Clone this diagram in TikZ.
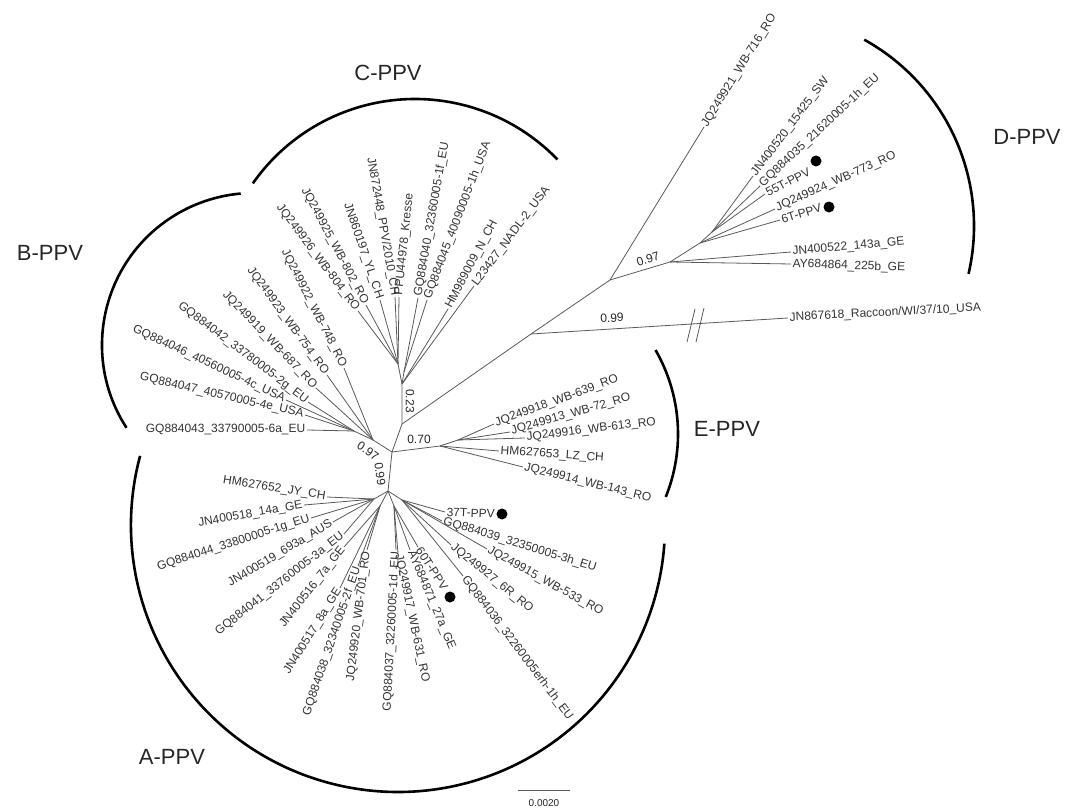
\documentclass[tikz,border=0pt]{standalone}
\usepackage{fontspec}
\setmainfont{Liberation Sans}
\usepackage{xcolor}
\usepackage{tikz}

\begin{document}
\begin{tikzpicture}[
    x=1pt, y=-1pt,
    br/.style={draw=black!65, line width=0.8pt},
    leaf/.style={font=\fontsize{12}{14}\selectfont, text=black!80, inner sep=1.5pt},
    boot/.style={font=\fontsize{12}{14}\selectfont, text=black!85, inner sep=1pt},
    clade/.style={font=\fontsize{22}{26}\selectfont, text=black!85},
    bracket/.style={draw=black, line width=2.6pt},
    tdot/.style={circle, fill=black, minimum size=11pt, inner sep=0pt}
]
    \useasboundingbox (0,0) rectangle (1071,810);

    \coordinate (j0) at (392,452);
    \coordinate (j1) at (402,424);
    \coordinate (cbase) at (402,384);
    \coordinate (cl) at (398,364);
    \coordinate (cr) at (404,372);
    \coordinate (bnode) at (373,440);
    \coordinate (bsub) at (354,431);
    \coordinate (anode) at (388,491);
    \coordinate (al) at (374,499);
    \coordinate (ad) at (380,506);
    \coordinate (ar) at (394,506);
    \coordinate (ae) at (402,500);
    \coordinate (enode) at (440,446);
    \coordinate (esub) at (458,440);
    \coordinate (dr) at (531,334);
    \coordinate (dj) at (610,280);
    \coordinate (dnode) at (670,262);
    \coordinate (d2) at (700,243);
    \coordinate (d3) at (712,232);

    \draw[bracket] (398,525) ++(195:267) arc[start angle=195, end angle=4, radius=267];
    \draw[bracket] (254,345) ++(147:152) arc[start angle=147, end angle=265, radius=152];
    \draw[bracket] (415,297) ++(215:198) arc[start angle=215, end angle=316, radius=198];
    \draw[bracket] (761,226) ++(-61:213) arc[start angle=-61, end angle=13, radius=213];
    \draw[bracket] (510,434) ++(-30:168) arc[start angle=-30, end angle=22, radius=168];

    \node[clade] (cladeA) at (172,757) {A-PPV};
    \node[clade] (cladeB) at (50,253) {B-PPV};
    \node[clade] (cladeC) at (388,73) {C-PPV};
    \node[clade] (cladeD) at (1027,137) {D-PPV};
    \node[clade] (cladeE) at (727,429) {E-PPV};

    \node[leaf, anchor=east] (gq043) at (307,430) {GQ884043\_33790005-6a\_EU};
    \node[leaf, anchor=east, rotate=-13] (gq047) at (305,415) {GQ884047\_40570005-4e\_USA};
    \node[leaf, anchor=east, rotate=-25] (gq046) at (286,400) {GQ884046\_40560005-4c\_USA};
    \node[leaf, anchor=east, rotate=-37] (gq042) at (308,402) {GQ884042\_33780005-2g\_EU};
    \node[leaf, anchor=east, rotate=-46] (jq919) at (316,388) {JQ249919\_WB-687\_RO};
    \node[leaf, anchor=east, rotate=-54] (jq923) at (327,375) {JQ249923\_WB-754\_RO};
    \node[leaf, anchor=east, rotate=-63] (jq922) at (344,368) {JQ249922\_WB-748\_RO};

    \node[leaf, anchor=east, rotate=-53] (jq926) at (358,311) {JQ249926\_WB-804\_RO};
    \node[leaf, anchor=east, rotate=-62] (jq925) at (366,305) {JQ249925\_WB-802\_RO};
    \node[leaf, anchor=east, rotate=-71] (jn197) at (380,300) {JN860197\_YL\_CH};
    \node[leaf, anchor=east, rotate=-80] (jn448) at (395,297) {JN872448\_PPV/2010\_CH};
    \node[leaf, anchor=west, rotate=84] (ppu) at (399,297) {PPU44978\_Kresse};
    \node[leaf, anchor=west, rotate=80] (gq040) at (418,298) {GQ884040\_32360005-1f\_EU};
    \node[leaf, anchor=west, rotate=69] (gq045) at (427,300) {GQ884045\_40090005-1h\_USA};
    \node[leaf, anchor=west, rotate=62] (hm009) at (448,309) {HM989009\_N\_CH};
    \node[leaf, anchor=west, rotate=53] (l23) at (474,286) {L23427\_NADL-2\_USA};

    \node[leaf, anchor=west, rotate=58] (jq921) at (704,127) {JQ249921\_WB-716\_RO};
    \node[leaf, anchor=west, rotate=53] (jn520) at (753,176) {JN400520\_15425\_SW};
    \node[leaf, anchor=west, rotate=43] (gq035) at (760,186) {GQ884035\_21620005-1h\_EU};
    \node[leaf, anchor=west, rotate=27] (t55) at (765,194) {55T-PPV};
    \node[leaf, anchor=west, rotate=24] (jq924) at (775,209) {JQ249924\_WB-773\_RO};
    \node[leaf, anchor=west, rotate=17] (t6) at (780,220) {6T-PPV};
    \node[leaf, anchor=west, rotate=5] (jn522) at (791,252) {JN400522\_143a\_GE};
    \node[leaf, anchor=west, rotate=-2] (ay864) at (791,264) {AY684864\_225b\_GE};
    \node[leaf, anchor=west, rotate=3] (rac) at (788,318) {JN867618\_Raccoon/WI/37/10\_USA};

    \node[leaf, anchor=west, rotate=20] (jq918) at (494,424) {JQ249918\_WB-639\_RO};
    \node[leaf, anchor=west, rotate=16] (jq913) at (510,432) {JQ249913\_WB-72\_RO};
    \node[leaf, anchor=west, rotate=7] (jq916) at (525,438) {JQ249916\_WB-613\_RO};
    \node[leaf, anchor=west, rotate=-4] (hm653) at (499,451) {HM627653\_LZ\_CH};
    \node[leaf, anchor=west, rotate=-14] (jq914) at (523,467) {JQ249914\_WB-143\_RO};

    \node[leaf, anchor=east, rotate=-9] (hm652) at (327,497) {HM627652\_JY\_CH};
    \node[leaf, anchor=east, rotate=10] (jn518) at (304,505) {JN400518\_14a\_GE};
    \node[leaf, anchor=east, rotate=18] (gq044) at (311,518) {GQ884044\_33800005-1g\_EU};
    \node[leaf, anchor=east, rotate=31] (jn519) at (333,522) {JN400519\_693a\_AUS};
    \node[leaf, anchor=east, rotate=38] (gq041) at (344,534) {GQ884041\_33760005-3a\_EU};
    \node[leaf, anchor=east, rotate=52] (jn516) at (344,547) {JN400516\_7a\_GE};
    \node[leaf, anchor=east, rotate=58] (jn517) at (340,588) {JN400517\_8a\_GE};
    \node[leaf, anchor=east, rotate=71] (gq038) at (358,566) {GQ884038\_32340005-2f\_EU};
    \node[leaf, anchor=east, rotate=83] (jq920) at (367,550) {JQ249920\_WB-701\_RO};
    \node[leaf, anchor=east, rotate=87] (gq037) at (396,550) {GQ884037\_32260005-1d\_EU};
    \node[leaf, anchor=west, rotate=-78] (jq917) at (398,553) {JQ249917\_WB-631\_RO};
    \node[leaf, anchor=west, rotate=-67] (ay871) at (410,550) {AY684871\_27a\_GE};
    \node[leaf, anchor=west, rotate=-57] (t60) at (418,547) {60T-PPV};
    \node[leaf, anchor=west, rotate=-39] (jq927) at (451,545) {JQ249927\_6R\_RO};
    \node[leaf, anchor=west, rotate=-53] (gq036) at (463,576) {GQ884036\_32260005erh-1h\_EU};
    \node[leaf, anchor=west, rotate=-29] (jq915) at (487,549) {JQ249915\_WB-533\_RO};
    \node[leaf, anchor=west, rotate=-17] (gq039) at (442,521) {GQ884039\_32350005-3h\_EU};
    \node[leaf, anchor=west, rotate=-2] (t37) at (445,512) {37T-PPV};

    \node[tdot] (dot55) at (816,161) {};
    \node[tdot] (dot6) at (829,207) {};
    \node[tdot] (dot37) at (502,514) {};
    \node[tdot] (dot60) at (450,597) {};

    \draw[br] (j0) -- (j1) -- (cbase);
    \draw[br] (cbase) -- (cl);
    \draw[br] (cbase) -- (cr);
    \draw[br] (j0) -- (bnode) -- (bsub);
    \draw[br] (j0) -- (anode);
    \draw[br] (j0) -- (enode) -- (esub);
    \draw[br] (j1) -- (dr) -- (dj) -- (dnode) -- (d2) -- (d3);
    \draw[br] (anode) -- (al);
    \draw[br] (anode) -- (ad);
    \draw[br] (anode) -- (ar);
    \draw[br] (anode) -- (ae);

    \draw[br] (cl) -- (jq926.east);
    \draw[br] (cl) -- (jq925.east);
    \draw[br] (cl) -- (jn197.east);
    \draw[br] (cl) -- (jn448.east);
    \draw[br] (cl) -- (ppu.west);
    \draw[br] (cr) -- (gq040.west);
    \draw[br] (cr) -- (gq045.west);
    \draw[br] (cbase) -- (hm009.west);
    \draw[br] (cbase) -- (l23.west);

    \draw[br] (bnode) -- (jq922.east);
    \draw[br] (bnode) -- (jq923.east);
    \draw[br] (bnode) -- (jq919.east);
    \draw[br] (bsub) -- (gq042.east);
    \draw[br] (bsub) -- (gq046.east);
    \draw[br] (bsub) -- (gq047.east);
    \draw[br] (bsub) -- (gq043.east);

    \draw[br] (al) -- (hm652.east);
    \draw[br] (al) -- (jn518.east);
    \draw[br] (al) -- (gq044.east);
    \draw[br] (al) -- (jn519.east);
    \draw[br] (al) -- (gq041.east);
    \draw[br] (ad) -- (jn516.east);
    \draw[br] (ad) -- (jn517.east);
    \draw[br] (ad) -- (gq038.east);
    \draw[br] (ad) -- (jq920.east);
    \draw[br] (ar) -- (gq037.east);
    \draw[br] (ar) -- (jq917.west);
    \draw[br] (ar) -- (ay871.west);
    \draw[br] (ar) -- (t60.west);
    \draw[br] (ae) -- (t37.west);
    \draw[br] (ae) -- (gq039.west);
    \draw[br] (ae) -- (jq915.west);
    \draw[br] (ae) -- (jq927.west);
    \draw[br] (ae) -- (gq036.west);

    \draw[br] (esub) -- (jq918.west);
    \draw[br] (esub) -- (jq913.west);
    \draw[br] (esub) -- (jq916.west);
    \draw[br] (enode) -- (hm653.west);
    \draw[br] (enode) -- (jq914.west);

    \draw[br] (dr) -- (rac.west);
    \draw[br] (dj) -- (jq921.west);
    \draw[br] (dnode) -- (jn522.west);
    \draw[br] (dnode) -- (ay864.west);
    \draw[br] (d2) -- (jq924.west);
    \draw[br] (d2) -- (t6.west);
    \draw[br] (d3) -- (jn520.west);
    \draw[br] (d3) -- (gq035.west);
    \draw[br] (d3) -- (t55.west);

    \draw[br] (695,309) -- (687,342);
    \draw[br] (704,308) -- (696,342);

    \node[boot, rotate=-90] (s023) at (410,401) {0.23};
    \node[boot] (s070) at (419,439) {0.70};
    \node[boot, rotate=-35] (s097b) at (368,451) {0.97};
    \node[boot, rotate=-82] (s099a) at (380,474) {0.99};
    \node[boot, rotate=17] (s097d) at (648,259) {0.97};
    \node[boot, rotate=3] (s099r) at (612,318) {0.99};

    \coordinate (sb1) at (518,790);
    \coordinate (sb2) at (570,790);
    \draw[br] (sb1) -- (sb2);
    \node[boot, font=\fontsize{10}{12}\selectfont] (sbl) at (544,803) {0.0020};
\end{tikzpicture}
\end{document}
